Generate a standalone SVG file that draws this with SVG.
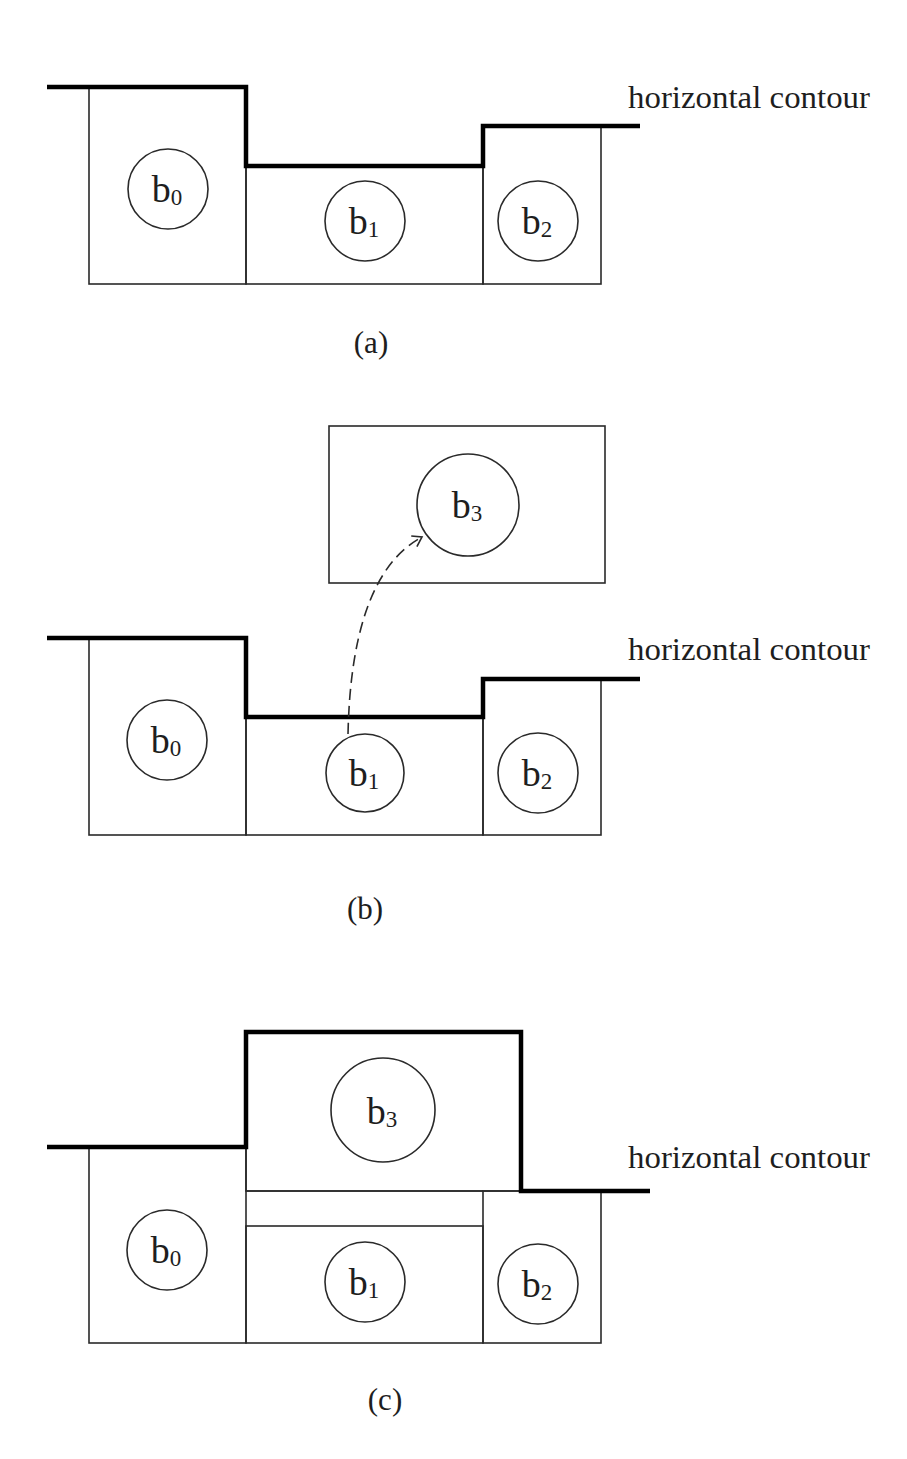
<svg xmlns="http://www.w3.org/2000/svg" width="907" height="1459" viewBox="0 0 907 1459">
  <defs>
    <style>
      .box { fill: none; stroke: #2a2a2a; stroke-width: 1.6; }
      .ball { fill: none; stroke: #2a2a2a; stroke-width: 1.6; }
      .contour { fill: none; stroke: #000; stroke-width: 4.5; stroke-linejoin: miter; }
      .lbl { font-family: "Liberation Serif", "Times New Roman", serif; font-size: 38px; fill: #1e1e1e; text-anchor: middle; }
      .sub { font-size: 23px; }
      .note { font-family: "Liberation Serif", "Times New Roman", serif; font-size: 31px; fill: #1e1e1e; }
      .cap { font-family: "Liberation Serif", "Times New Roman", serif; font-size: 31px; fill: #1e1e1e; text-anchor: middle; }
      .move { fill: none; stroke: #2a2a2a; stroke-width: 1.6; stroke-dasharray: 11 6; }
    </style>
    <marker id="openArrow" viewBox="-11 -7 13 14" refX="0" refY="0" markerWidth="13" markerHeight="14" markerUnits="userSpaceOnUse" orient="auto">
      <path d="M-9,-6 L0,0 L-9,6" fill="none" stroke="#2a2a2a" stroke-width="1.6"/>
    </marker>
  </defs>
  <rect width="907" height="1459" fill="#ffffff"/>

  <!-- (a) skyline before placement -->
  <g id="panel-a">
    <g id="a-b0">
      <rect class="box" x="89" y="87" width="157" height="197"/>
      <circle class="ball" cx="168" cy="189" r="40"/>
      <text class="lbl" x="167" y="202">b<tspan class="sub" dy="3">0</tspan></text>
    </g>
    <g id="a-b1">
      <rect class="box" x="246" y="166" width="237" height="118"/>
      <circle class="ball" cx="365" cy="221" r="40"/>
      <text class="lbl" x="364" y="234">b<tspan class="sub" dy="3">1</tspan></text>
    </g>
    <g id="a-b2">
      <rect class="box" x="483" y="126" width="118" height="158"/>
      <circle class="ball" cx="538" cy="221" r="40"/>
      <text class="lbl" x="537" y="234">b<tspan class="sub" dy="3">2</tspan></text>
    </g>
    <polyline class="contour" points="47,87 246,87 246,166 483,166 483,126 640,126"/>
    <text class="note" x="628" y="108" textLength="242" lengthAdjust="spacingAndGlyphs">horizontal contour</text>
    <text class="cap" x="371" y="353">(a)</text>
  </g>

  <!-- (b) candidate box b3 moved onto the lowest segment -->
  <g id="panel-b">
    <g id="b-b3">
      <rect class="box" x="329" y="426" width="276" height="157"/>
      <circle class="ball" cx="468" cy="505" r="51"/>
      <text class="lbl" x="467" y="518">b<tspan class="sub" dy="3">3</tspan></text>
    </g>
    <g id="b-b0">
      <rect class="box" x="89" y="638" width="157" height="197"/>
      <circle class="ball" cx="167" cy="740" r="40"/>
      <text class="lbl" x="166" y="753">b<tspan class="sub" dy="3">0</tspan></text>
    </g>
    <g id="b-b1">
      <rect class="box" x="246" y="717" width="237" height="118"/>
      <circle class="ball" cx="365" cy="773" r="39"/>
      <text class="lbl" x="364" y="786">b<tspan class="sub" dy="3">1</tspan></text>
    </g>
    <g id="b-b2">
      <rect class="box" x="483" y="679" width="118" height="156"/>
      <circle class="ball" cx="538" cy="773" r="40"/>
      <text class="lbl" x="537" y="786">b<tspan class="sub" dy="3">2</tspan></text>
    </g>
    <polyline class="contour" points="47,638 246,638 246,717 483,717 483,679 640,679"/>
    <text class="note" x="628" y="660" textLength="242" lengthAdjust="spacingAndGlyphs">horizontal contour</text>
    <text class="cap" x="365" y="919">(b)</text>
  </g>

  <!-- connector: b1 slot to b3 -->
  <g id="connectors">
    <path class="move" d="M348,734 C350,640 370,565 422,537" marker-end="url(#openArrow)"/>
  </g>

  <!-- (c) skyline after placing b3 -->
  <g id="panel-c">
    <g id="c-b3">
      <rect class="box" x="246" y="1032" width="275" height="159"/>
      <circle class="ball" cx="383" cy="1110" r="52"/>
      <text class="lbl" x="382" y="1124">b<tspan class="sub" dy="3">3</tspan></text>
    </g>
    <g id="c-b0">
      <rect class="box" x="89" y="1147" width="157" height="196"/>
      <circle class="ball" cx="167" cy="1250" r="40"/>
      <text class="lbl" x="166" y="1263">b<tspan class="sub" dy="3">0</tspan></text>
    </g>
    <g id="c-b1">
      <rect class="box" x="246" y="1226" width="237" height="117"/>
      <circle class="ball" cx="365" cy="1282" r="40"/>
      <text class="lbl" x="364" y="1295">b<tspan class="sub" dy="3">1</tspan></text>
    </g>
    <g id="c-b2">
      <rect class="box" x="483" y="1191" width="118" height="152"/>
      <circle class="ball" cx="538" cy="1284" r="40"/>
      <text class="lbl" x="537" y="1297">b<tspan class="sub" dy="3">2</tspan></text>
    </g>
    <line class="box" x1="246" y1="1191" x2="483" y2="1191"/>
    <polyline class="contour" points="47,1147 246,1147 246,1032 521,1032 521,1191 650,1191"/>
    <text class="note" x="628" y="1168" textLength="242" lengthAdjust="spacingAndGlyphs">horizontal contour</text>
    <text class="cap" x="385" y="1410">(c)</text>
  </g>
</svg>
